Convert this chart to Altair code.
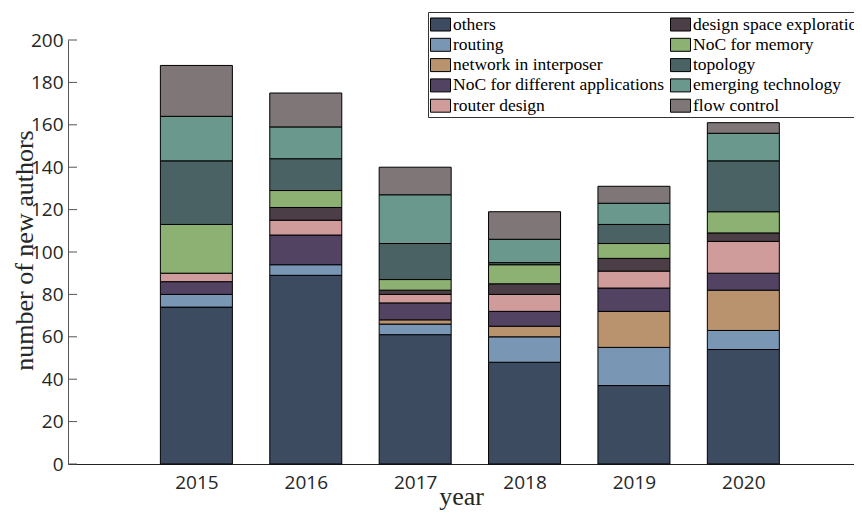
import altair as alt
import pandas as pd

years = [2015, 2016, 2017, 2018, 2019, 2020]

categories = [
    "others", "routing", "network in interposer", "NoC for different applications",
    "router design", "design space exploration", "NoC for memory", "topology",
    "emerging technology", "flow control",
]

others = [74, 89, 61, 48, 37, 54]
routing = [6, 5, 5, 12, 18, 9]
interposer = [0, 0, 2, 5, 17, 19]
applications = [6, 14, 8, 7, 11, 8]
router_design = [4, 7, 4, 8, 8, 15]
dse = [0, 6, 2, 5, 6, 4]
memory = [23, 8, 5, 9, 7, 10]
topology = [30, 15, 17, 1, 9, 24]
emerging = [21, 15, 23, 11, 10, 13]
flow_control = [24, 16, 13, 13, 8, 5]

colors = [
    "#3d4b61", "#7a96b5", "#b8936e", "#534363", "#d09b9b",
    "#4c3e47", "#8db172", "#4a6264", "#6a988d", "#7f7777",
]

y_ticks = [0, 20, 40, 60, 80, 100, 120, 140, 160, 180, 200]

series = [others, routing, interposer, applications, router_design,
          dse, memory, topology, emerging, flow_control]

rows = []
for ci, (cat, vals) in enumerate(zip(categories, series)):
    for y, v in zip(years, vals):
        rows.append({"year": y, "category": cat, "value": v, "idx": ci})
df = pd.DataFrame(rows)

xscale = alt.Scale(domain=[2013.872, 2020.966], nice=False, zero=False)
yscale = alt.Scale(domain=[0, 200], nice=False)

bars = alt.Chart(df).transform_filter("datum.value > 0").mark_bar(
    size=72, stroke="black", strokeWidth=1, opacity=1
).encode(
    x=alt.X("year:Q", scale=xscale,
            axis=alt.Axis(values=years, format="d", title="year", grid=False,
                          tickSize=0, labelPadding=9, domainColor="#222",
                          labelFont="Open Sans", labelFontSize=19, labelColor="#262626",
                          titleFont="Liberation Serif", titleFontSize=26,
                          titleFontWeight="normal", titleColor="#262626",
                          titleBaseline="alphabetic", titleY=40)),
    y=alt.Y("sum(value):Q", stack="zero", scale=yscale,
            axis=alt.Axis(values=y_ticks, title="number of new authors", grid=False,
                          tickSize=0, labelPadding=5, domainColor="#555",
                          labelFont="Open Sans", labelFontSize=19, labelColor="#262626",
                          titleFont="Liberation Serif", titleFontSize=26,
                          titleFontWeight="normal", titleColor="#262626",
                          titleBaseline="alphabetic", titleX=-36, titleY=210)),
    color=alt.Color("category:N",
                    scale=alt.Scale(domain=categories, range=colors),
                    legend=alt.Legend(
                        title=None, orient="none", legendX=360, legendY=-28,
                        columns=2, columnPadding=3, rowPadding=1.3,
                        strokeColor="#333", fillColor="white", padding=2,
                        labelFont="Liberation Serif", labelFontSize=17.5,
                        labelColor="black", labelLimit=400, labelOffset=2,
                        symbolType="M-1,-0.65H1V0.65H-1Z", symbolSize=400,
                        symbolStrokeColor="black", symbolStrokeWidth=1,
                        symbolOpacity=1)),
    order=alt.Order("idx:Q", sort="ascending"),
)

ticks_df = pd.DataFrame({"t": y_ticks})
ticks = alt.Chart(ticks_df).mark_rule(color="#555", strokeWidth=1).encode(
    y=alt.Y("t:Q", scale=yscale),
    x=alt.value(0),
    x2=alt.value(9),
)

chart = alt.layer(bars, ticks).properties(
    width=786, height=424,
    autosize=alt.AutoSizeParams(type="none"),
    padding={"left": 60, "top": 32, "right": 0, "bottom": 47},
).configure_view(stroke=None)

chart.save("out.html", embed_options={"renderer": "svg", "actions": False})
